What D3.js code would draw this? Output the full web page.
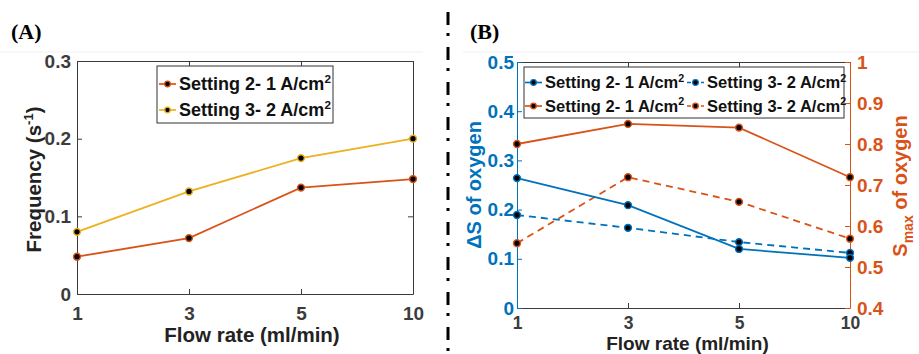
<!DOCTYPE html>
<html>
<head>
<meta charset="utf-8">
<script src="https://cdn.jsdelivr.net/npm/d3@7"></script>
<style>
  body { margin: 0; background: #fff; }
  svg { display: block; font-family: "Liberation Sans", Arial, sans-serif; font-weight: bold; }
  .panel-tag { font-family: "Liberation Serif", "Times New Roman", serif; font-size: 22px; }
</style>
</head>
<body>
<div id="chart"></div>
<script>
// Data
const flowRates = ["1", "3", "5", "10"];
const freqSetting2 = [0.048, 0.072, 0.137, 0.148];
const freqSetting3 = [0.080, 0.132, 0.175, 0.200];
const deltaSSetting2 = [0.264, 0.209, 0.120, 0.102];
const deltaSSetting3 = [0.189, 0.163, 0.134, 0.112];
const smaxSetting2 = [0.800, 0.849, 0.840, 0.719];
const smaxSetting3 = [0.558, 0.719, 0.659, 0.569];

const freqTicks = [0, 0.1, 0.2, 0.3];
const deltaSTicks = [0, 0.1, 0.2, 0.3, 0.4, 0.5];
const smaxTicks = [0.4, 0.5, 0.6, 0.7, 0.8, 0.9, 1];
const settingLabels = ["Setting 2- 1 A/cm", "Setting 3- 2 A/cm"];

const colors = { red: "#D95319", yellow: "#EDB120", blue: "#0072BD", box: "#3c3c3c" };

const W = 919, H = 354;
const svg = d3.select("#chart").append("svg").attr("width", W).attr("height", H);

// faint frame lines of the original figure
svg.append("line").attr("x1", 0).attr("x2", 423).attr("y1", 52).attr("y2", 52).attr("stroke", "#f0f0f0");
svg.append("line").attr("x1", 463).attr("x2", W).attr("y1", 52).attr("y2", 52).attr("stroke", "#f0f0f0");

// dash-dot divider
svg.append("line")
  .attr("x1", 448).attr("x2", 448).attr("y1", 12).attr("y2", H)
  .attr("stroke", "#000").attr("stroke-width", 3)
  .attr("stroke-dasharray", "13,8,3,11");

svg.append("text").attr("class", "panel-tag").attr("x", 11).attr("y", 39).text("(A)");
svg.append("text").attr("class", "panel-tag").attr("x", 470).attr("y", 39).text("(B)");

function styleAxis(g, color, size) {
  g.select(".domain").attr("stroke", color).attr("stroke-width", 1);
  g.selectAll(".tick line").attr("stroke", color);
  g.selectAll(".tick text").attr("fill", color).style("font-size", size + "px")
    .style("font-family", "'Liberation Sans', Arial, sans-serif").style("font-weight", "bold");
}

function drawSeries(g, x, y, values, color, dashed) {
  const pts = values.map((v, i) => [x(flowRates[i]), y(v)]);
  g.append("path")
    .attr("d", d3.line()(pts))
    .attr("fill", "none")
    .attr("stroke", color)
    .attr("stroke-width", 1.8)
    .attr("stroke-dasharray", dashed ? "7,5" : null);
  g.selectAll(null).data(pts).enter().append("circle")
    .attr("cx", d => d[0]).attr("cy", d => d[1]).attr("r", 3.4)
    .attr("fill", "#000").attr("stroke", color).attr("stroke-width", 1.5);
}

function legendEntry(g, x0, yc, color, dashed, label, fontSize) {
  g.append("line").attr("x1", x0).attr("x2", x0 + 17).attr("y1", yc).attr("y2", yc)
    .attr("stroke", color).attr("stroke-width", 1.7).attr("stroke-dasharray", dashed ? "4,3" : null);
  g.append("circle").attr("cx", x0 + 8.5).attr("cy", yc).attr("r", 2.8)
    .attr("fill", "#000").attr("stroke", color).attr("stroke-width", 1.3);
  const t = g.append("text").attr("x", x0 + 20).attr("y", yc + fontSize * 0.36)
    .style("font-size", fontSize + "px").attr("fill", "#111");
  t.append("tspan").text(label);
  t.append("tspan").attr("dy", -fontSize * 0.42).style("font-size", (fontSize * 0.65) + "px").text("2");
}

// ---------- Panel A ----------
const A = { left: 77, right: 413, top: 61, bottom: 294 };
const xA = d3.scalePoint().domain(flowRates).range([A.left, A.right]);
const yA = d3.scaleLinear().domain([0, 0.3]).range([A.bottom, A.top]);
const gA = svg.append("g");

gA.append("g").attr("transform", `translate(0,${A.bottom})`)
  .call(d3.axisBottom(xA).tickSizeInner(-5).tickSizeOuter(0).tickPadding(13))
  .call(g => styleAxis(g, colors.box, 19));
gA.append("g").attr("transform", `translate(0,${A.top})`)
  .call(d3.axisTop(xA).tickSizeInner(-5).tickSizeOuter(0).tickFormat(""))
  .call(g => styleAxis(g, colors.box, 19));
gA.append("g").attr("transform", `translate(${A.left},0)`)
  .call(d3.axisLeft(yA).tickValues(freqTicks).tickFormat(d3.format("~g")).tickSizeInner(-5).tickSizeOuter(0).tickPadding(6))
  .call(g => styleAxis(g, colors.box, 19));
gA.append("g").attr("transform", `translate(${A.right},0)`)
  .call(d3.axisRight(yA).tickValues(freqTicks).tickSizeInner(-5).tickSizeOuter(0).tickFormat(""))
  .call(g => styleAxis(g, colors.box, 19));

drawSeries(gA, xA, yA, freqSetting3, colors.yellow, false);
drawSeries(gA, xA, yA, freqSetting2, colors.red, false);

gA.append("text").attr("x", (A.left + A.right) / 2 + 7).attr("y", 342)
  .attr("text-anchor", "middle").style("font-size", "20.5px").attr("fill", "#222")
  .text("Flow rate (ml/min)");

const yLabA = gA.append("text")
  .attr("transform", `translate(41,${(A.top + A.bottom) / 2 + 2}) rotate(-90)`)
  .attr("text-anchor", "middle").style("font-size", "20.5px").attr("fill", "#222");
yLabA.append("tspan").text("Frequency (s");
yLabA.append("tspan").attr("dy", -8).style("font-size", "13px").text("-1");
yLabA.append("tspan").attr("dy", 8).text(")");

const legA = gA.append("g");
legA.append("rect").attr("x", 157).attr("y", 66).attr("width", 176).attr("height", 57)
  .attr("fill", "#fff").attr("stroke", "#333").attr("stroke-width", 1);
legendEntry(legA, 159, 84, colors.red, false, settingLabels[0], 18);
legendEntry(legA, 159, 110, colors.yellow, false, settingLabels[1], 18);

// ---------- Panel B ----------
const B = { left: 517, right: 850, top: 62, bottom: 308 };
const xB = d3.scalePoint().domain(flowRates).range([B.left, B.right]);
const yBl = d3.scaleLinear().domain([0, 0.5]).range([B.bottom, B.top]);
const yBr = d3.scaleLinear().domain([0.4, 1]).range([B.bottom, B.top]);
const gB = svg.append("g");

gB.append("g").attr("transform", `translate(0,${B.bottom})`)
  .call(d3.axisBottom(xB).tickSizeInner(-5).tickSizeOuter(0).tickPadding(9))
  .call(g => styleAxis(g, colors.box, 17.5));
gB.append("g").attr("transform", `translate(0,${B.top})`)
  .call(d3.axisTop(xB).tickSizeInner(-5).tickSizeOuter(0).tickFormat(""))
  .call(g => styleAxis(g, colors.box, 19));
gB.append("g").attr("transform", `translate(${B.left},0)`)
  .call(d3.axisLeft(yBl).tickValues(deltaSTicks).tickFormat(d3.format("~g")).tickSizeInner(-5).tickSizeOuter(0).tickPadding(3))
  .call(g => styleAxis(g, colors.blue, 19));
gB.append("g").attr("transform", `translate(${B.right},0)`)
  .call(d3.axisRight(yBr).tickValues(smaxTicks).tickFormat(d3.format("~g")).tickSizeInner(-5).tickSizeOuter(0).tickPadding(7))
  .call(g => styleAxis(g, colors.red, 19));

drawSeries(gB, xB, yBr, smaxSetting2, colors.red, false);
drawSeries(gB, xB, yBr, smaxSetting3, colors.red, true);
drawSeries(gB, xB, yBl, deltaSSetting3, colors.blue, true);
drawSeries(gB, xB, yBl, deltaSSetting2, colors.blue, false);

gB.append("text").attr("x", (B.left + B.right) / 2 + 4).attr("y", 349.5)
  .attr("text-anchor", "middle").style("font-size", "19px").attr("fill", "#222")
  .text("Flow rate (ml/min)");

gB.append("text")
  .attr("transform", `translate(481,185) rotate(-90)`)
  .attr("text-anchor", "middle").style("font-size", "20px").attr("fill", colors.blue)
  .text("\u0394S of oxygen");

const yLabBr = gB.append("text")
  .attr("transform", `translate(907,186) rotate(-90)`)
  .attr("text-anchor", "middle").style("font-size", "20px").attr("fill", colors.red);
yLabBr.append("tspan").text("S");
yLabBr.append("tspan").attr("dy", 6).style("font-size", "14px").text("max");
yLabBr.append("tspan").attr("dy", -6).text(" of oxygen");

const legB = gB.append("g");
legB.append("rect").attr("x", 524).attr("y", 67).attr("width", 320).attr("height", 51)
  .attr("fill", "#fff").attr("stroke", "#333").attr("stroke-width", 1);
legendEntry(legB, 525, 82.5, colors.blue, false, settingLabels[0], 16.5);
legendEntry(legB, 687, 82.5, colors.blue, true, settingLabels[1], 16.5);
legendEntry(legB, 525, 106, colors.red, false, settingLabels[0], 16.5);
legendEntry(legB, 687, 106, colors.red, true, settingLabels[1], 16.5);
</script>
</body>
</html>
